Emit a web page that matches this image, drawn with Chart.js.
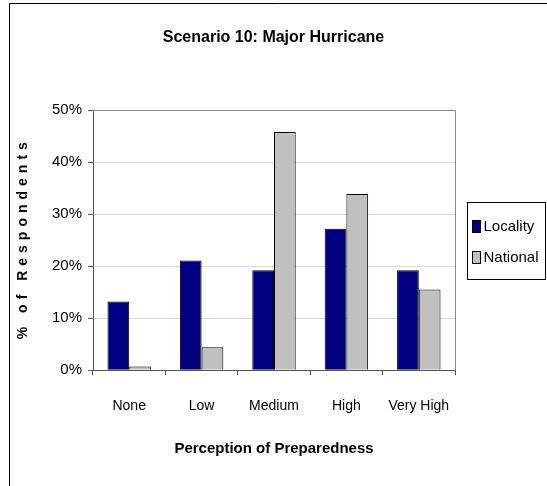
<!DOCTYPE html>
<html>
<head>
<meta charset="utf-8">
<script src="https://cdn.jsdelivr.net/npm/chart.js@4/dist/chart.umd.min.js"></script>
<style>
html, body { margin: 0; padding: 0; background: #fff; }
</style>
</head>
<body>
<canvas id="chart" width="547" height="486"></canvas>
<script>
// values (percent of respondents)
const categories = ['None', 'Low', 'Medium', 'High', 'Very High'];
const locality = [13.2, 21.1, 19.2, 27.2, 19.2];
const national = [0.7, 4.4, 45.8, 33.9, 15.5];
const seriesNames = ['Locality', 'National'];
const seriesColors = ['#000080', '#c0c0c0'];
const yMax = 50;
const yStep = 10;

const FONT = "'Liberation Sans', Arial, sans-serif";

// outer frame (cropped at right and bottom in the original)
const framePlugin = {
    id: 'frame',
    beforeDraw(chart) {
        const ctx = chart.ctx;
        ctx.save();
        ctx.strokeStyle = '#000';
        ctx.lineWidth = 1;
        ctx.beginPath();
        ctx.moveTo(9.5, chart.height);
        ctx.lineTo(9.5, 3.5);
        ctx.lineTo(chart.width, 3.5);
        ctx.stroke();
        ctx.restore();
    },
    beforeDatasetsDraw(chart) {
        // grey top and right edge of the plot area
        const ctx = chart.ctx, a = chart.chartArea;
        ctx.save();
        ctx.strokeStyle = '#8c8c8c';
        ctx.lineWidth = 1;
        ctx.beginPath();
        ctx.moveTo(a.left, Math.round(a.top) + 0.5);
        ctx.lineTo(Math.round(a.right) + 0.5, Math.round(a.top) + 0.5);
        ctx.lineTo(Math.round(a.right) + 0.5, a.bottom);
        ctx.stroke();
        ctx.restore();
    }
};

// rotated y title with spaced letters
const yTitlePlugin = {
    id: 'yTitle',
    afterDraw(chart) {
        const ctx = chart.ctx, a = chart.chartArea;
        ctx.save();
        ctx.translate(23, (a.top + a.bottom) / 2);
        ctx.rotate(-Math.PI / 2);
        ctx.font = 'bold 14px ' + FONT;
        ctx.letterSpacing = '5px';
        ctx.textAlign = 'center';
        ctx.textBaseline = 'middle';
        ctx.fillStyle = '#000';
        ctx.fillText('% of Respondents', 2, 0);
        ctx.restore();
    }
};

// boxed legend on the right
const legendPlugin = {
    id: 'boxLegend',
    afterDraw(chart) {
        const ctx = chart.ctx, a = chart.chartArea;
        const cy = (a.top + a.bottom) / 2;
        const x0 = 467.5, w = 78, h = 77;
        const y0 = Math.round(cy - h / 2) + 0.5;
        ctx.save();
        ctx.strokeStyle = '#000';
        ctx.lineWidth = 1;
        ctx.strokeRect(x0, y0, w, h);
        ctx.font = '15px ' + FONT;
        ctx.textBaseline = 'middle';
        chart.data.datasets.forEach((ds, i) => {
            const ry = y0 + 24 + i * 31;
            ctx.fillStyle = ds.backgroundColor;
            ctx.fillRect(x0 + 5, ry - 6, 8, 12);
            ctx.strokeRect(x0 + 5, ry - 6, 8, 12);
            ctx.fillStyle = '#000';
            ctx.fillText(ds.label, x0 + 16, ry);
        });
        ctx.restore();
    }
};

const datasets = [locality, national].map((vals, i) => ({
    label: seriesNames[i],
    data: vals,
    backgroundColor: seriesColors[i],
    borderColor: '#000',
    borderWidth: 1,
    barPercentage: 1,
    categoryPercentage: 0.6
}));

new Chart(document.getElementById('chart'), {
    type: 'bar',
    data: { labels: categories, datasets: datasets },
    options: {
        responsive: false,
        animation: false,
        layout: { padding: { left: 0, right: 0, top: 0, bottom: 28 } },
        plugins: {
            legend: { display: false },
            tooltip: { enabled: false },
            title: {
                display: true,
                text: 'Scenario 10: Major Hurricane',
                color: '#000',
                font: { family: FONT, size: 16, weight: 'bold' },
                padding: { top: 28, bottom: 63 }
            }
        },
        scales: {
            x: {
                grid: {
                    offset: true,
                    drawOnChartArea: false,
                    drawTicks: true,
                    tickLength: 5,
                    tickColor: '#555'
                },
                border: { color: '#555' },
                ticks: {
                    color: '#000',
                    padding: 23,
                    maxRotation: 0,
                    autoSkip: false,
                    font: { family: FONT, size: 14 }
                },
                title: {
                    display: true,
                    text: 'Perception of Preparedness',
                    color: '#000',
                    font: { family: FONT, size: 15, weight: 'bold' },
                    padding: { top: 2, bottom: 0 }
                }
            },
            y: {
                min: 0,
                max: yMax,
                afterFit(scale) { scale.width = 93; },
                grid: {
                    color: '#d9d9d9',
                    tickColor: '#555',
                    tickLength: 5
                },
                border: { color: '#555' },
                ticks: {
                    stepSize: yStep,
                    color: '#000',
                    padding: 6,
                    font: { family: FONT, size: 15 },
                    callback: v => v + '%'
                }
            },
            // empty right axis that keeps room for the legend box
            side: {
                position: 'right',
                afterFit(scale) { scale.width = 92; },
                grid: { drawOnChartArea: false, drawTicks: false },
                border: { display: false },
                ticks: { display: false }
            }
        }
    },
    plugins: [framePlugin, yTitlePlugin, legendPlugin]
});
</script>
</body>
</html>
